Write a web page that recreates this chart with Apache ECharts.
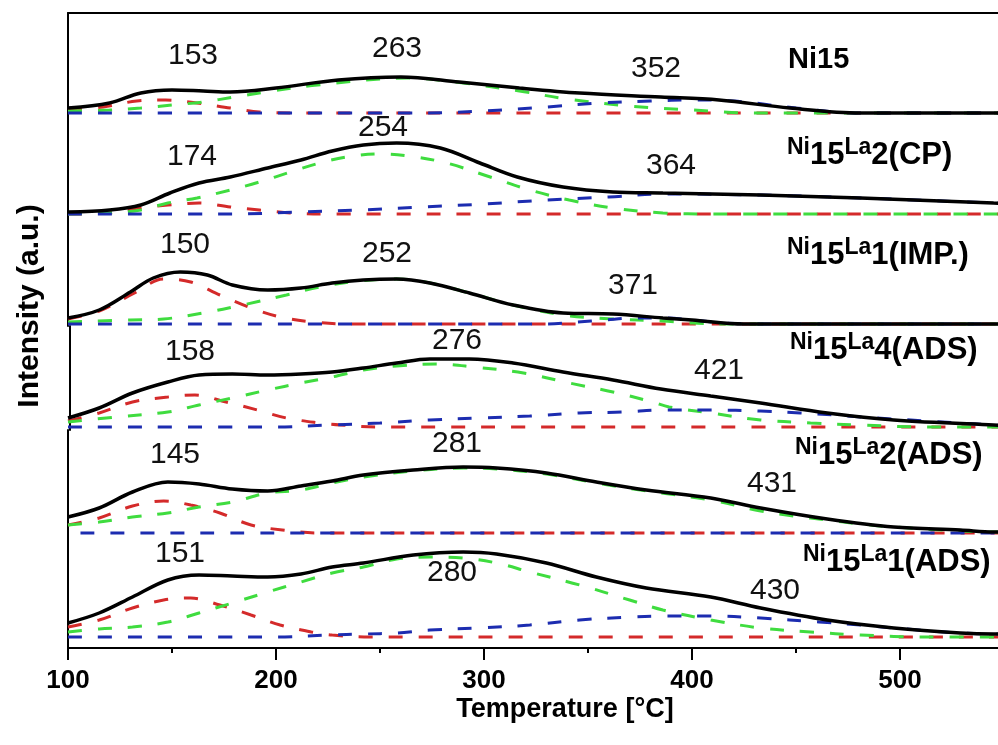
<!DOCTYPE html>
<html><head><meta charset="utf-8">
<script src="https://cdn.jsdelivr.net/npm/echarts@6/dist/echarts.min.js"></script>
<style>html,body{margin:0;padding:0;background:#fff;}#c{width:998px;height:745px;}</style>
</head><body><div id="c"></div>
<script>
// ---------------- DATA (temperature °C, intensity a.u. above each panel baseline) ----------------
const xTickValues = [100, 200, 300, 400, 500];
const sampleNames = ['Ni15', 'Ni15La2(CP)', 'Ni15La1(IMP.)', 'Ni15La4(ADS)', 'Ni15La2(ADS)', 'Ni15La1(ADS)'];
const peakLabels = [
  ['153', '263', '352'],
  ['174', '254', '364'],
  ['150', '252', '371'],
  ['158', '276', '421'],
  ['145', '281', '431'],
  ['151', '280', '430']
];

// Ni15
const total1 = [[100,5],[120,10],[135,20],[150,23],[165,22],[178,21],[200,25],[230,33],[260,36],[288,31],[317,25],[346,20],[385,16],[413,13],[447,5],[481,0],[560,0]];
const red1   = [[100,3],[117,6],[133,12],[147,13],[162,10],[178,5],[192,1],[210,0],[560,0]];
const green1 = [[100,2],[120,3],[135,5],[150,8],[165,11],[180,16],[195,21],[220,28],[263,35],[290,30],[317,22],[340,14],[370,7],[400,3],[430,0],[560,0]];
const blue1  = [[100,0],[270,0],[300,2],[330,6],[355,10],[380,12],[400,13],[420,12],[450,5],[480,0],[560,0]];
// Ni15La2(CP)
const total2 = [[100,2],[120,4],[135,9],[149,21],[163,31],[178,37],[196,46],[212,54],[227,63],[242,69],[258,71],[279,66],[298,51],[316,37],[338,27],[362,22],[386,21],[433,19],[481,16],[545,11],[560,10]];
const red2   = [[100,0],[120,1],[135,6],[148,9],[163,11],[178,7],[192,4],[207,1],[225,0],[560,0]];
const green2 = [[100,0],[120,1],[135,4],[148,11],[162,16],[178,24],[192,32],[207,42],[221,51],[234,57],[250,60],[264,58],[282,51],[303,37],[322,24],[341,14],[362,6],[386,1],[410,0],[560,0]];
const blue2  = [[100,0],[180,0],[210,2],[240,4],[270,7],[300,10],[330,14],[360,17],[386,20],[433,19],[481,16],[545,11],[560,10]];
// Ni15La1(IMP.)
const total3 = [[100,6],[115,14],[130,32],[141,46],[154,52],[167,49],[179,39],[196,34],[212,36],[227,41],[242,44],[258,45],[274,41],[293,31],[314,19],[338,11],[362,10],[386,6],[400,4],[425,0],[560,0]];
const red3   = [[100,5],[115,13],[132,31],[146,45],[159,42],[173,29],[188,16],[202,7],[218,2],[235,0],[560,0]];
const green3 = [[100,2],[130,4],[146,5],[165,11],[184,19],[205,29],[221,37],[240,43],[258,45],[274,41],[293,31],[314,19],[338,9],[362,5],[386,3],[400,1],[420,0],[560,0]];
const blue3  = [[100,0],[330,0],[345,2],[358,4],[372,6],[386,6],[400,4],[415,1],[430,0],[560,0]];
// Ni15La4(ADS)
const total4 = [[100,9],[115,19],[131,34],[148,45],[163,52],[179,53],[196,52],[212,53],[227,55],[242,59],[258,64],[274,68],[293,68],[314,64],[338,55],[362,47],[385,38],[409,31],[433,24],[465,14],[497,7],[545,2],[560,1]];
const red4   = [[100,6],[115,14],[131,25],[148,30],[161,32],[176,25],[191,17],[205,9],[221,4],[231,2],[250,0],[560,0]];
const green4 = [[100,5],[123,10],[148,15],[163,22],[179,29],[196,37],[212,44],[227,50],[242,57],[258,61],[277,63],[295,60],[319,54],[341,44],[362,35],[381,25],[389,20],[409,14],[433,7],[457,4],[481,2],[513,0],[560,0]];
const blue4  = [[100,0],[200,0],[226,2],[250,4],[274,7],[298,9],[322,11],[346,14],[367,15],[386,17],[409,17],[433,16],[452,14],[468,12],[481,10],[513,6],[545,2],[560,1]];
// Ni15La2(ADS)
const total5 = [[100,16],[115,25],[131,41],[148,51],[163,49],[179,44],[196,42],[212,47],[227,52],[242,58],[266,63],[290,66],[306,65],[330,60],[354,51],[378,43],[409,35],[433,25],[465,14],[497,6],[529,3],[545,1],[560,1]];
const red5   = [[100,8],[115,15],[131,27],[146,32],[159,28],[173,20],[188,8],[203,3],[220,0],[560,0]];
const green5 = [[100,8],[115,11],[131,16],[148,20],[163,26],[179,31],[196,40],[212,43],[227,50],[242,56],[266,62],[290,65],[306,64],[330,59],[354,50],[378,42],[409,33],[433,22],[449,17],[465,13],[481,9],[497,6],[529,2],[545,1],[560,1]];
const blue5  = [[106,0],[560,0]];
// Ni15La1(ADS)
const total6 = [[100,14],[115,24],[131,40],[148,57],[163,62],[179,61],[196,60],[212,63],[227,70],[242,74],[266,82],[290,85],[306,83],[330,74],[354,60],[378,49],[409,40],[433,29],[465,17],[497,9],[529,4],[545,3],[560,3]];
const red6   = [[100,10],[115,17],[131,29],[146,37],[159,39],[173,32],[188,22],[202,12],[217,5],[227,2],[245,0],[560,0]];
const green6 = [[100,5],[115,8],[131,10],[148,15],[163,24],[179,34],[196,45],[212,55],[227,64],[242,70],[258,78],[274,80],[290,79],[306,74],[322,65],[346,52],[370,37],[386,27],[409,17],[433,9],[457,5],[481,2],[513,0],[560,0]];
const blue6  = [[100,0],[200,0],[226,2],[242,3],[258,4],[274,7],[298,9],[322,12],[346,17],[370,20],[386,21],[409,21],[433,19],[461,15],[481,12],[497,9],[529,4],[545,3],[560,3]];

const panels = [
  {red: red1, green: green1, blue: blue1, total: total1},
  {red: red2, green: green2, blue: blue2, total: total2},
  {red: red3, green: green3, blue: blue3, total: total3},
  {red: red4, green: green4, blue: blue4, total: total4},
  {red: red5, green: green5, blue: blue5, total: total5},
  {red: red6, green: green6, blue: blue6, total: total6}
];

// ---------------- LAYOUT / STYLE ----------------
const FONT = "'Liberation Sans', Arial, sans-serif";
const bounds = [13, 118, 220, 326, 430, 536, 648];   // panel edges (px)
const baselines = [113, 214, 324, 427, 533, 637];     // panel baselines (px)
const axisOffsets = [0, 0, 0, -2, 0, 0];
const peakPos = [
  [[193,56],[397,49],[656,69]],
  [[192,157],[383,128],[671,166]],
  [[185,245],[387,254],[633,286]],
  [[190,352],[457,341],[719,371]],
  [[175,455],[457,444],[772,484]],
  [[180,554],[452,573],[775,591]]
];
const namePos = [[788,60],[787,136],[787,236],[790,331],[795,436],[803,543]];
const colors = {red: '#d42a2a', green: '#3fdc3f', blue: '#1c2cb0', total: '#000000'};

const grids = [], xAxes = [], yAxes = [], series = [];
panels.forEach((p, i) => {
  const top = bounds[i], bottom = bounds[i + 1];
  grids.push({left: 68, width: 1040, top: top, height: bottom - top,
    outerBoundsMode: 'none', containLabel: false});
  const isLast = i === panels.length - 1, isFirst = i === 0;
  xAxes.push({
    gridIndex: i, type: 'value', min: 100, max: 600, interval: 100,
    position: isFirst ? 'top' : 'bottom',
    show: isLast || isFirst,
    axisLine: {show: true, onZero: false, lineStyle: {color: '#000', width: 2}},
    axisTick: {show: isLast, inside: false, length: 12, lineStyle: {color: '#000', width: 2}},
    minorTick: {show: isLast, splitNumber: 2, length: 5, lineStyle: {color: '#000', width: 2}},
    splitLine: {show: false}, minorSplitLine: {show: false},
    axisLabel: {
      show: isLast, margin: 20, color: '#000', fontFamily: FONT, fontWeight: 'bold', fontSize: 26,
      formatter: v => xTickValues.indexOf(v) >= 0 ? String(v) : ''
    }
  });
  yAxes.push({
    gridIndex: i, type: 'value', min: baselines[i] - bottom, max: baselines[i] - top,
    offset: axisOffsets[i],
    axisLine: {show: true, onZero: false, lineStyle: {color: '#000', width: 2}},
    axisTick: {show: false}, axisLabel: {show: false}, splitLine: {show: false}
  });
  ['red', 'green', 'blue', 'total'].forEach(k => {
    series.push({
      type: 'line', xAxisIndex: i, yAxisIndex: i, data: p[k],
      showSymbol: false, smooth: 0.35, silent: true,
      lineStyle: k === 'total'
        ? {color: colors[k], width: 3.5}
        : {color: colors[k], width: 3, type: [14, 16]},
      z: k === 'total' ? 5 : 3
    });
  });
});

const graphics = [];
peakLabels.forEach((labels, i) => {
  labels.forEach((t, j) => {
    graphics.push({type: 'text', x: peakPos[i][j][0], y: peakPos[i][j][1], z: 10,
      style: {text: t, font: '30px ' + FONT, fill: '#111', align: 'center', verticalAlign: 'middle'}});
  });
});
sampleNames.forEach((n, i) => {
  const m = n.match(/^Ni15La(\d)(\(.*\))$/);
  if (!m) {
    graphics.push({type: 'text', x: namePos[i][0], y: namePos[i][1], z: 10,
      style: {text: n, font: 'bold 29px ' + FONT, fill: '#000', align: 'left', verticalAlign: 'middle'}});
  } else {
    graphics.push({type: 'text', x: namePos[i][0], y: namePos[i][1], z: 10,
      style: {
        text: '{s|Ni}{b|15}{s|La}{b|' + m[1] + m[2] + '}',
        align: 'left', verticalAlign: 'top',
        rich: {
          s: {fontFamily: FONT, fontWeight: 'bold', fontSize: 23, lineHeight: 21, verticalAlign: 'top', fill: '#000', color: '#000'},
          b: {fontFamily: FONT, fontWeight: 'bold', fontSize: 31, lineHeight: 35, verticalAlign: 'bottom', fill: '#000', color: '#000'}
        }
      }});
  }
});
graphics.push({type: 'text', x: 565, y: 710, z: 10,
  style: {text: 'Temperature [°C]', font: 'bold 27px ' + FONT, fill: '#000', align: 'center', verticalAlign: 'middle'}});
graphics.push({type: 'text', x: 30, y: 306, rotation: Math.PI / 2, z: 10,
  style: {text: 'Intensity (a.u.)', font: 'bold 30px ' + FONT, fill: '#000', align: 'center', verticalAlign: 'middle'}});

const chart = echarts.init(document.getElementById('c'), null, {renderer: 'canvas'});
chart.setOption({
  animation: false,
  backgroundColor: '#fff',
  grid: grids, xAxis: xAxes, yAxis: yAxes, series: series,
  graphic: graphics
});
</script>
</body></html>
